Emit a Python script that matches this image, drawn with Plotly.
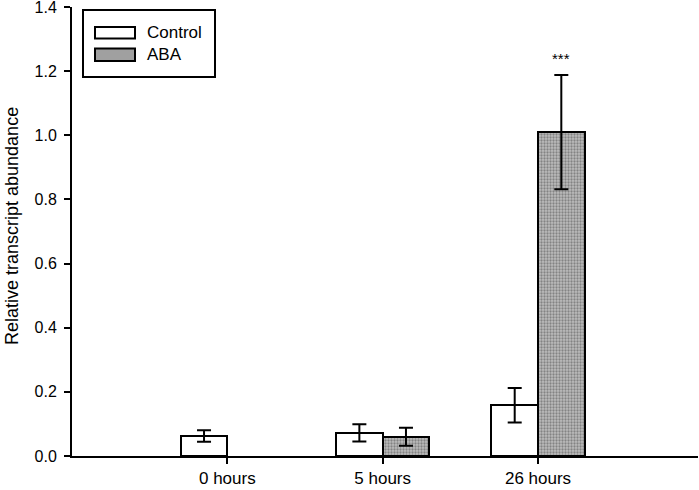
import plotly.graph_objects as go

categories = ["0 hours", "5 hours", "26 hours"]
positions = [1, 2, 3]
control_vals = [0.062, 0.072, 0.158]
control_err = [0.018, 0.027, 0.054]
aba_positions = [2, 3]
aba_vals = [0.060, 1.010]
aba_err = [0.028, 0.178]
y_ticks = [0.0, 0.2, 0.4, 0.6, 0.8, 1.0, 1.2, 1.4]

FONT = "Liberation Sans, Arial, Helvetica, sans-serif"

# plot area in pixels
L, R, T, B = 72, 1, 7, 34
W, H = 699, 490
PW = W - L - R
PH = H - T - B


def px(x):
    return (x - L) / PW


def py(y):
    return (H - B - y) / PH


fig = go.Figure()

fig.add_trace(go.Bar(
    x=positions, y=control_vals, width=0.3, offset=-0.3,
    marker=dict(color="white", line=dict(color="black", width=2)),
    error_y=dict(type="data", array=control_err, color="black", thickness=2, width=7),
    name="Control", showlegend=False,
))
fig.add_trace(go.Bar(
    x=aba_positions, y=aba_vals, width=0.3, offset=0,
    marker=dict(color="#a8a8a8", line=dict(color="black", width=2),
                pattern=dict(shape=".", bgcolor="#bdbdbd", fgcolor="#4a4a4a", size=3, solidity=0.45)),
    error_y=dict(type="data", array=aba_err, color="black", thickness=2, width=7),
    name="ABA", showlegend=False,
))

fig.add_annotation(x=3.15, y=1.24, xref="x", yref="y", text="***", showarrow=False,
                   font=dict(family=FONT, size=15, color="black"), yanchor="middle")

# legend drawn as shapes + text
shapes = [
    dict(type="rect", xref="paper", yref="paper", x0=px(83), x1=px(215), y0=py(77), y1=py(10),
         line=dict(color="black", width=2), fillcolor="white", layer="below"),
    dict(type="rect", xref="paper", yref="paper", x0=px(95), x1=px(135), y0=py(38.5), y1=py(27),
         line=dict(color="black", width=2), fillcolor="white"),
    dict(type="rect", xref="paper", yref="paper", x0=px(95), x1=px(135), y0=py(61), y1=py(48.5),
         line=dict(color="black", width=2), fillcolor="#a0a0a0"),
]
fig.add_annotation(x=px(145), y=py(33), xref="paper", yref="paper", text="Control", showarrow=False,
                   xanchor="left", yanchor="middle", font=dict(family=FONT, size=17, color="black"))
fig.add_annotation(x=px(145), y=py(55), xref="paper", yref="paper", text="ABA", showarrow=False,
                   xanchor="left", yanchor="middle", font=dict(family=FONT, size=17, color="black"))
fig.add_annotation(x=px(12), y=py(226), xref="paper", yref="paper", text="Relative transcript abundance",
                   showarrow=False, textangle=-90, xanchor="center", yanchor="middle",
                   font=dict(family=FONT, size=18, color="black"))

fig.update_layout(
    width=W, height=H,
    margin=dict(l=L, r=R, t=T, b=B),
    plot_bgcolor="white", paper_bgcolor="white",
    shapes=shapes,
    font=dict(family=FONT, color="black"),
    xaxis=dict(range=[0, 4.03], tickvals=positions, ticktext=categories, ticks="outside",
               ticklen=6, tickwidth=1.5, tickcolor="black", showline=True, linecolor="black",
               linewidth=2, showgrid=False, zeroline=False, tickfont=dict(size=17),
               automargin=False),
    yaxis=dict(range=[-0.0001, 1.4002], tickvals=y_ticks, ticktext=[f"{v:.1f}" for v in y_ticks],
               ticks="outside", ticklen=6, tickwidth=1.5, tickcolor="black", showline=True,
               linecolor="black", linewidth=2, showgrid=False, zeroline=False,
               tickfont=dict(size=16), automargin=False, ticklabeloverflow="allow",
               ticklabelstandoff=4),
    bargap=0,
)

fig.write_html("out.html", config={"displayModeBar": False},
               post_script="document.body.style.margin='0';document.body.style.overflow='hidden';")
